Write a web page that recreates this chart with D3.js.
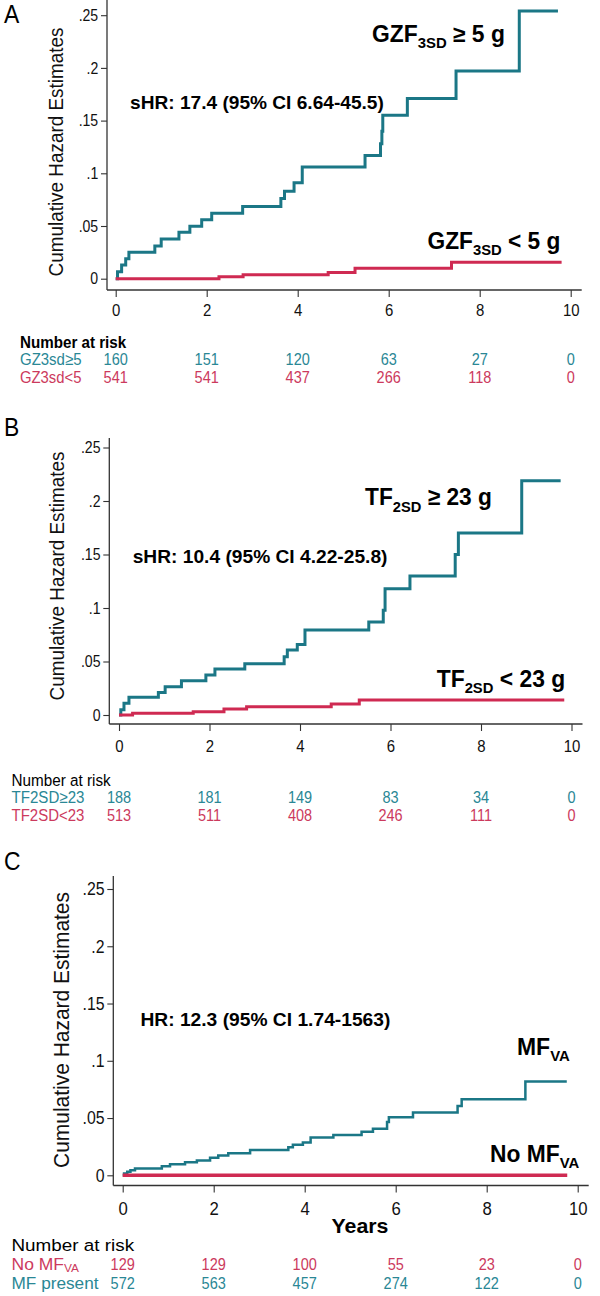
<!DOCTYPE html>
<html><head><meta charset="utf-8">
<script src="https://cdn.jsdelivr.net/npm/d3@7"></script>
<style>
body{margin:0;background:#fff}
svg{display:block}
text{font-family:"Liberation Sans",Arial,Helvetica,sans-serif}
</style>
</head><body>
<svg id="chart" width="600" height="1296"></svg>
<script>
// ---------- shared axis data ----------
const yearTicks = [0, 2, 4, 6, 8, 10];
const hazardTicks = [0, 0.05, 0.1, 0.15, 0.2, 0.25];
const hazardTickLabels = ["0", ".05", ".1", ".15", ".2", ".25"];
const riskTimes = [0, 2, 4, 6, 8, 10];
const yTitle = "Cumulative Hazard Estimates";

// ---------- Panel A : GZF3SD ----------
const gzHighTime = [0, 0.04, 0.13, 0.22, 0.29, 0.86, 1.0, 1.39, 1.63, 1.89, 2.11, 2.79, 3.63, 3.71, 3.92, 4.1, 5.48, 5.82, 5.85, 5.87, 6.41, 7.48, 8.87, 9.72];
const gzHighHaz  = [0, 0.0066, 0.013, 0.019, 0.025, 0.031, 0.0376, 0.044, 0.0497, 0.056, 0.062, 0.0686, 0.076, 0.083, 0.091, 0.106, 0.117, 0.128, 0.140, 0.155, 0.171, 0.197, 0.254, 0.254];
const gzLowTime  = [0, 2.27, 2.8, 4.67, 5.26, 7.38, 9.8];
const gzLowHaz   = [0, 0.0019, 0.0038, 0.006, 0.0099, 0.0156, 0.0156];
const gzHighRisk = [160, 151, 120, 63, 27, 0];
const gzLowRisk  = [541, 541, 437, 266, 118, 0];

// ---------- Panel B : TF2SD ----------
const tfHighTime = [0, 0.04, 0.11, 0.22, 0.87, 1.02, 1.38, 1.92, 2.12, 2.78, 3.65, 3.72, 3.94, 4.11, 5.52, 5.84, 5.88, 6.43, 7.43, 7.5, 8.9, 9.76];
const tfHighHaz  = [0, 0.005, 0.011, 0.0165, 0.021, 0.0265, 0.032, 0.0374, 0.043, 0.048, 0.0545, 0.0607, 0.066, 0.0794, 0.087, 0.098, 0.118, 0.130, 0.150, 0.170, 0.219, 0.219];
const tfLowTime  = [0, 0.3, 1.64, 2.32, 2.82, 4.69, 5.31, 9.84];
const tfLowHaz   = [0, 0.0016, 0.003, 0.0056, 0.0078, 0.0103, 0.014, 0.014];
const tfHighRisk = [188, 181, 149, 83, 34, 0];
const tfLowRisk  = [513, 511, 408, 246, 111, 0];

// ---------- Panel C : MFVA ----------
const mfTime = [0, 0.03, 0.1, 0.17, 0.27, 0.86, 1.04, 1.37, 1.63, 1.92, 2.1, 2.32, 2.8, 3.64, 3.74, 3.96, 4.13, 4.63, 5.25, 5.5, 5.81, 5.85, 6.38, 7.36, 7.45, 8.85, 9.76];
const mfHaz  = [0, 0.0015, 0.003, 0.0045, 0.006, 0.008, 0.0096, 0.0113, 0.013, 0.0153, 0.0173, 0.0193, 0.022, 0.0244, 0.0267, 0.0287, 0.033, 0.0352, 0.038, 0.0406, 0.0466, 0.0506, 0.0548, 0.0605, 0.0665, 0.082, 0.082];
const noMfTime = [0, 9.77];
const noMfHaz  = [0, 0];
const noMfRisk = [129, 129, 100, 55, 23, 0];
const mfRisk   = [572, 563, 457, 274, 122, 0];

const TEAL = "#1b7786";
const RED = "#cf2a52";
const TEAL_TXT = "#2a8795";
const RED_TXT = "#cc3a5d";
const AXIS = "#333";
const CX = 0.88; // horizontal condensation of the lettering

const svg = d3.select("#chart");

function zip(t, h) { return t.map((d, i) => ({t: d, h: h[i]})); }

// label with optional subscript, scaled horizontally to a target width
function richLabel(g, x, baseline, parts, size, subSize, targetW, color, weight, subShift) {
  const t = g.append("text")
    .attr("x", 0).attr("y", 0)
    .attr("font-size", size)
    .attr("font-weight", weight || "bold")
    .attr("fill", color || "#000");
  const sh = (subShift == null ? 0.28 : subShift) * size;
  let shifted = false;
  parts.forEach(p => {
    const ts = t.append("tspan").text(p.t);
    if (p.sub) { ts.attr("font-size", subSize).attr("dy", shifted ? 0 : sh); shifted = true; }
    else if (shifted) { ts.attr("dy", -sh); shifted = false; }
  });
  const w = t.node().getBBox().width;
  const s = targetW ? targetW / w : CX;
  t.attr("transform", `translate(${x},${baseline}) scale(${s},1)`);
  return t;
}

function panel(cfg) {
  const g = svg.append("g");
  const x = d3.scaleLinear().domain([0, 10]).range([cfg.x0, cfg.x10]);
  const y = d3.scaleLinear().domain([0, 0.25]).range([cfg.y0, cfg.y25]);

  // panel letter
  g.append("text").attr("x", cfg.letterX).attr("y", cfg.letterY)
    .attr("font-size", 26).attr("transform", `translate(${cfg.letterX * (1 - CX)},0) scale(${CX},1)`)
    .text(cfg.letter);

  // y axis
  const yAxis = d3.axisLeft(y).tickValues(hazardTicks)
    .tickFormat((d, i) => hazardTickLabels[i]).tickSize(6).tickPadding(3).tickSizeOuter(0);
  const ya = g.append("g").attr("transform", `translate(${cfg.axisX},0)`).call(yAxis);
  ya.select(".domain").remove();
  ya.selectAll(".tick line").attr("stroke", AXIS).attr("stroke-width", 1.1);
  ya.selectAll(".tick text").attr("font-size", cfg.yTickSize).attr("fill", "#111")
    .attr("font-family", '"Liberation Sans",Arial,sans-serif')
    .attr("x", -10).attr("transform", `scale(${CX},1)`);
  g.append("line").attr("x1", cfg.axisX).attr("x2", cfg.axisX)
    .attr("y1", cfg.axisTop).attr("y2", cfg.axisY)
    .attr("stroke", AXIS).attr("stroke-width", 1.3);

  // x axis
  const xAxis = d3.axisBottom(x).tickValues(yearTicks).tickFormat(d3.format("d"))
    .tickSize(7).tickPadding(cfg.xTickPad).tickSizeOuter(0);
  const xa = g.append("g").attr("transform", `translate(0,${cfg.axisY})`).call(xAxis);
  xa.select(".domain").remove();
  xa.selectAll(".tick line").attr("stroke", AXIS).attr("stroke-width", 1.1);
  xa.selectAll(".tick text").attr("font-size", cfg.xTickSize).attr("fill", "#111")
    .attr("font-family", '"Liberation Sans",Arial,sans-serif')
    .attr("transform", `scale(${CX},1)`);
  g.append("line").attr("x1", cfg.axisX).attr("x2", cfg.x10 + 11)
    .attr("y1", cfg.axisY).attr("y2", cfg.axisY)
    .attr("stroke", AXIS).attr("stroke-width", 1.3);

  // y title
  g.append("text")
    .attr("transform", `translate(${cfg.titleX},${cfg.titleY}) rotate(-90)`)
    .attr("text-anchor", "middle").attr("dominant-baseline", "central")
    .attr("font-size", cfg.titleSize).attr("fill", "#111")
    .attr("textLength", cfg.titleLen).attr("lengthAdjust", "spacingAndGlyphs")
    .text(yTitle);

  // curves
  const line = d3.line().curve(d3.curveStepAfter).x(d => x(d.t)).y(d => y(d.h));
  cfg.series.forEach(s => {
    g.append("path").datum(zip(s.time, s.haz))
      .attr("d", line).attr("fill", "none")
      .attr("stroke", s.color).attr("stroke-width", s.width)
      .attr("stroke-linejoin", "miter").attr("stroke-linecap", "butt");
  });

  // annotations
  cfg.labels.forEach(l => richLabel(g, l.x, l.y, l.parts, l.size, l.subSize, l.w, "#000"));

  // x title
  if (cfg.xTitle) {
    richLabel(g, cfg.xTitle.x, cfg.xTitle.y, [{t: cfg.xTitle.text}], cfg.xTitle.size, 0, cfg.xTitle.w, "#000");
  }

  // risk table
  richLabel(g, cfg.riskX, cfg.riskHeadY, [{t: "Number at risk"}], cfg.riskSize, 0, cfg.riskHeadW, "#000", cfg.riskHeadWeight);
  cfg.riskRows.forEach((r, ri) => {
    const yy = cfg.riskRowY[ri];
    richLabel(g, cfg.riskX, yy, r.label, cfg.riskSize, cfg.riskSize * 0.68, r.labelW, r.color, "normal", 0.12);
    g.selectAll(null).data(r.values).enter().append("text")
      .attr("transform", (d, i) => `translate(${x(riskTimes[i])},${yy}) scale(${CX},1)`)
      .attr("text-anchor", "middle").attr("font-size", cfg.riskNumSize)
      .attr("fill", r.color).text(d => d);
  });
}

// ---------- Panel A ----------
panel({
  letter: "A", letterX: 4, letterY: 23,
  x0: 115.7, x10: 570.7, y0: 278.7, y25: 15.2,
  axisX: 107, axisY: 290, axisTop: 0,
  yTickSize: 16, xTickSize: 17, xTickPad: 7,
  titleX: 56, titleY: 152, titleSize: 20, titleLen: 249,
  series: [
    {time: gzHighTime, haz: gzHighHaz, color: TEAL, width: 3},
    {time: gzLowTime, haz: gzLowHaz, color: RED, width: 3}
  ],
  labels: [
    {x: 130, y: 109, parts: [{t: "sHR: 17.4 (95% CI 6.64-45.5)"}], size: 19, w: 254},
    {x: 372, y: 42, parts: [{t: "GZF"}, {t: "3SD", sub: true}, {t: " ≥ 5 g"}], size: 23, subSize: 15, w: 133},
    {x: 427.5, y: 249, parts: [{t: "GZF"}, {t: "3SD", sub: true}, {t: " < 5 g"}], size: 23, subSize: 15, w: 133}
  ],
  riskX: 20, riskHeadY: 347.5, riskSize: 16.5, riskHeadW: 107, riskHeadWeight: "bold", riskNumSize: 16.5,
  riskRowY: [365, 383],
  riskRows: [
    {label: [{t: "GZ3sd≥5"}], labelW: 61.5, color: TEAL_TXT, values: gzHighRisk},
    {label: [{t: "GZ3sd<5"}], labelW: 61.5, color: RED_TXT, values: gzLowRisk}
  ]
});

// ---------- Panel B ----------
panel({
  letter: "B", letterX: 4, letterY: 436,
  x0: 119, x10: 571.5, y0: 715, y25: 447.5,
  axisX: 109.3, axisY: 724, axisTop: 438,
  yTickSize: 16, xTickSize: 17, xTickPad: 9,
  titleX: 56.5, titleY: 576, titleSize: 20, titleLen: 249,
  series: [
    {time: tfHighTime, haz: tfHighHaz, color: TEAL, width: 3},
    {time: tfLowTime, haz: tfLowHaz, color: RED, width: 3}
  ],
  labels: [
    {x: 132.7, y: 562.5, parts: [{t: "sHR: 10.4 (95% CI 4.22-25.8)"}], size: 19, w: 255},
    {x: 365, y: 505, parts: [{t: "TF"}, {t: "2SD", sub: true}, {t: " ≥ 23 g"}], size: 24, subSize: 15.5, w: 127},
    {x: 436.7, y: 686.5, parts: [{t: "TF"}, {t: "2SD", sub: true}, {t: " < 23 g"}], size: 24, subSize: 15.5, w: 128.5}
  ],
  riskX: 11.5, riskHeadY: 786, riskSize: 16.5, riskHeadW: 100, riskHeadWeight: "normal", riskNumSize: 16.5,
  riskRowY: [803, 821],
  riskRows: [
    {label: [{t: "TF2SD≥23"}], labelW: 73, color: TEAL_TXT, values: tfHighRisk},
    {label: [{t: "TF2SD<23"}], labelW: 73, color: RED_TXT, values: tfLowRisk}
  ]
});

// ---------- Panel C ----------
panel({
  letter: "C", letterX: 4, letterY: 870,
  x0: 122.7, x10: 577.7, y0: 1175.3, y25: 889,
  axisX: 113.3, axisY: 1185.5, axisTop: 876,
  yTickSize: 18, xTickSize: 19, xTickPad: 9,
  titleX: 61.5, titleY: 1030, titleSize: 22, titleLen: 276,
  series: [
    {time: mfTime, haz: mfHaz, color: TEAL, width: 2.5},
    {time: noMfTime, haz: noMfHaz, color: RED, width: 3.5}
  ],
  labels: [
    {x: 140.4, y: 1026, parts: [{t: "HR: 12.3 (95% CI 1.74-1563)"}], size: 19, w: 250},
    {x: 517, y: 1055, parts: [{t: "MF"}, {t: "VA", sub: true}], size: 23, subSize: 15, w: 53},
    {x: 490, y: 1162, parts: [{t: "No MF"}, {t: "VA", sub: true}], size: 23, subSize: 15, w: 89.5}
  ],
  xTitle: {x: 331.5, y: 1233, text: "Years", size: 21, w: 57},
  riskX: 11.5, riskHeadY: 1251, riskSize: 16.5, riskHeadW: 123.5, riskHeadWeight: "normal", riskNumSize: 16.5,
  riskRowY: [1270, 1289],
  riskRows: [
    {label: [{t: "No MF"}, {t: "VA", sub: true}], labelW: 68, color: RED_TXT, values: noMfRisk},
    {label: [{t: "MF present"}], labelW: 87.5, color: TEAL_TXT, values: mfRisk}
  ]
});
</script>
</body></html>
